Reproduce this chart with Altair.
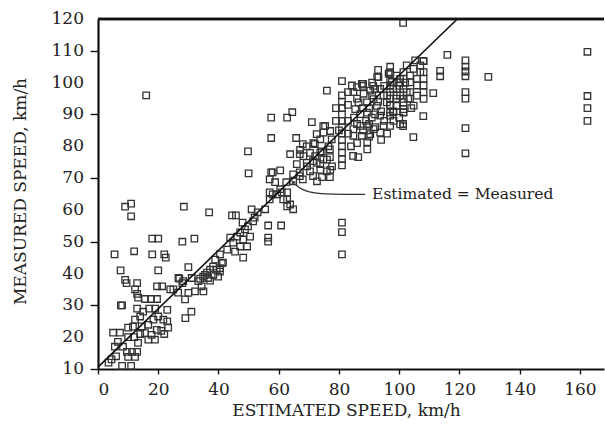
import altair as alt
import pandas as pd

# ---- data (estimated km/h, measured km/h) ----
out_est = [16, 9, 11, 11, 28.5, 5.5, 12, 18, 20, 28, 32, 18, 22, 22.5, 7.5, 20, 9, 9.5, 8,
           36.9, 44.5, 45.8, 49.8, 50, 57.5, 62.8, 64.5, 57.5, 65.8, 71, 76, 56.5, 60.8, 56.5,
           56.5, 81, 81, 81, 101.3, 116, 129.6, 162.5, 162.5, 162.5, 162.5, 122, 122, 122, 122,
           122, 122, 122, 122, 113.6, 113.6, 111.3, 108, 101.3, 104.7, 108, 29, 31, 84.7, 86.4,
           89.4, 89.4, 101.3]
out_meas = [96, 61, 62, 58, 61, 46, 47, 51, 51, 50, 51, 46, 46, 45, 41, 41, 38, 37, 30,
            59.2, 58.3, 58.3, 78.4, 71.5, 89, 89, 90.7, 82.6, 82.6, 87.6, 97.5, 55.1, 55.1, 51.3,
            50, 56, 53, 46, 118.8, 108.7, 101.8, 109.7, 95.8, 92, 88, 107, 105, 103.5, 102,
            97, 95, 85.7, 77.8, 103.7, 102, 96.7, 89.5, 86.3, 82.9, 106.8, 26, 28, 77, 76.6,
            79, 81.3, 87]

col_est = [81] * 13
col_meas = [100.5, 96, 94, 92, 90, 88, 86, 84, 82, 80, 78, 76, 74]

low_est = [4.5, 8, 11, 5.6, 6.6, 8.3, 9.6, 11.3, 13, 13.3, 10, 12.3, 5, 7.3, 10, 11.6, 12.3, 14,
           14.5, 16.7, 18.4, 20, 21.7, 15.6, 17.8, 19.5, 16.7, 18.9, 13, 12.3, 13, 13.3, 19.6,
           21.3, 15.6, 17.6, 19.6, 7.6, 13, 15, 17, 19, 23, 23, 23.3, 27, 28, 30, 26.6, 25, 24,
           26.7, 28.3, 31.1, 33.3, 34.4, 32.2, 30, 35, 36.6, 38.3, 39.4, 40.5, 41.1, 37.2, 35.5,
           28.9, 14, 12, 10, 21, 22, 6, 3.5]
low_meas = [13, 11, 11, 17, 18.5, 17, 15.4, 15.4, 15.4, 18.2, 13.8, 13.8, 21.4, 21.4, 23, 23.3,
            25.5, 26.5, 23.4, 23.9, 25.5, 26.5, 25.5, 21.3, 20.7, 22.3, 19.2, 19.2, 37, 35,
            33.6, 32.4, 36, 36, 32, 32, 32, 30, 29, 28, 29, 29, 28.6, 25, 23, 38.4, 37, 42, 34,
            35, 35, 38.6, 37.6, 38.6, 37.6, 36, 34.4, 33.9, 34.4, 38.6, 39.6, 41.2, 41.7, 43.3,
            41.2, 39.6, 31.9, 21, 20, 20, 22, 21, 14, 12]

mid_est = [33.9, 34.9, 37.2, 36.2, 38.2, 39.9, 40.5, 38.9, 41.5, 40.5, 42.9, 45.5, 48.2, 44.9,
           47.2, 49.5, 43.9, 46.2, 48.2, 50.5, 48, 49.8, 51.5, 48.8, 47.2, 51, 53, 52, 55.5,
           57, 59.5, 61, 62.8, 63.8, 64.8, 57.5, 60.5, 58.8, 62.5, 63.8, 67, 66, 67,
           74.8, 68, 72, 71.4, 69.4, 70.4, 73.8, 76, 77, 74.4, 72.7, 68, 67, 64.8, 58, 57,
           60.5, 62.8, 58, 57, 61.5, 62.8, 64.8, 71.4, 73.8, 74.8, 77, 77, 77.7,
           67.1, 69.3, 71.5, 73.8, 74.9, 77.1, 75.4, 72.6, 70.4, 68.2, 72.1, 74.3, 76.5, 77.6,
           69.3, 72.6, 76, 77.1, 73.8]
mid_meas = [38.4, 39, 37.8, 40.3, 42.2, 39, 40.6, 44.4, 43.4, 46, 47.5, 46.9, 45, 49.7,
            48.5, 48.5, 51.3, 51.6, 50.7, 51.6, 56, 54.8, 56.4, 53.9, 52.9, 60.2, 59.2, 57.6, 60.2,
            65.5, 64.9, 65.5, 63.3, 61.7, 60.2, 71.8, 72.4, 68.7, 68.7, 77.5, 77.5, 74.4, 70.6,
            86.3, 80.7, 80.7, 75.3, 73.7, 72.1, 74.4, 72.1, 70.3, 70.3, 69, 69.6, 71.8, 71.2, 71.8,
            69.6, 66.5, 65.5, 64.9, 63.3, 63.3, 61.1, 69, 70.6, 78.1, 75.9, 79, 76.6, 73.7,
            78.9, 80, 81, 82.2, 84.3, 84.8, 86.4, 83.8, 77.9, 76.9, 76.9, 78.4, 80, 82.2,
            74.8, 74.8, 75.8, 72.6, 72.6]

high_est = [84.3, 87.6, 84.8, 88.2, 90.4, 93.1, 96.5, 97.6, 100.3, 93.7, 94.8, 91.5, 89.3, 86.5,
            85.4, 87.1, 89.3, 90.9, 93.7, 97, 99.2, 101.4, 100.3, 102.5, 95.9, 92.6, 98.1, 94.8,
            91.5, 89.3, 87.1, 84.8, 84.8, 87.6, 90.4, 93.7, 97, 100.3, 101.4,
            97, 97, 97, 97, 97, 97, 97, 99.2, 99.2, 99.2, 100.3, 101.4, 101.4, 101.4, 101.4,
            101.4, 102.5, 103.6, 103.6, 103.6, 103.6, 104.8, 105.3, 105.9, 105.9, 105.9, 107,
            108.1, 108.1, 108.1, 108.1, 108.1, 108.1, 107, 104.8, 101.4, 99.2, 98.1,
            83, 85, 86, 88, 89, 90, 91, 92, 93, 94, 95, 96, 97, 98, 99, 83, 84, 86, 88, 90, 92,
            94, 96, 98, 100, 102, 103, 104, 100, 95, 91, 88, 86, 90, 92, 97, 93,
            86, 88, 91.4, 92.7, 97, 79, 79, 80, 83, 83]
high_meas = [99.1, 99.6, 97, 96.5, 97.5, 101.7, 102.8, 100.2, 101.2, 98, 95.9, 94.8, 93.8, 93.8,
             91.7, 90.1, 90.6, 89, 89.6, 90.6, 92.7, 93.8, 95.9, 97, 93.8, 92.7, 88, 86.4,
             85.4, 86.4, 86.4, 85.4, 83.3, 83.3, 83.8, 84.3, 86.4, 86.9, 90.6,
             103.3, 101.2, 99.1, 97, 94.9, 92.8, 89.6, 102.2, 98, 95.9, 100.1, 103.3, 101.2,
             98, 94.9, 91.7, 105.4, 102.2, 100.1, 97, 94.9, 104.3, 107, 101.2, 99.1, 95.9, 103.3,
             103.3, 101.2, 99.1, 97, 94.9, 106.8, 105.4, 92.8, 90.7, 92.8, 90.7,
             88, 89, 95, 92, 88, 92, 96, 90, 94, 91, 88, 96, 93, 98, 95, 93, 80, 81, 85, 87, 86,
             82, 84, 91, 99, 100, 95, 92, 89, 99, 100, 99, 87, 83, 98, 105, 104,
             98.6, 99.6, 99, 101.8, 102.7, 88, 92, 85, 97, 84]

# axis tick values
x_ticks = list(range(0, 170, 10))
y_ticks = [10, 20, 30, 40, 50, 60, 70, 80, 90, 100, 110, 120]

# diagonal line Estimated = Measured (as drawn)
diag_est = [0, 119.3]
diag_meas = [10.6, 120]

# annotation
note_text = "Estimated = Measured"
note_est, note_meas = 91, 64.9
arrow_est = [88.7, 77.1, 71.0, 67.5, 65.3]
arrow_meas = [64.9, 64.9, 65.3, 66.4, 68.2]

# ---- build tables ----
est = out_est + col_est + low_est + mid_est + high_est
meas = out_meas + col_meas + low_meas + mid_meas + high_meas
pts = pd.DataFrame({"est": est, "meas": meas})
diag = pd.DataFrame({"est": diag_est, "meas": diag_meas})
arrow = pd.DataFrame({"est": arrow_est, "meas": arrow_meas, "i": list(range(len(arrow_est)))})
note = pd.DataFrame({"est": [note_est], "meas": [note_meas], "t": [note_text]})
head = pd.DataFrame({"est": [64.7], "meas": [68.8]})
ylab = pd.DataFrame({"meas": y_ticks, "t": [str(v) for v in y_ticks]})

FONT = "DejaVu Serif"
xscale = alt.Scale(domain=[0, 168], nice=False, zero=False)
yscale = alt.Scale(domain=[10, 120], nice=False, zero=False)

xaxis = alt.Axis(values=x_ticks,
                 labelExpr="datum.value % 20 === 0 ? datum.label : ''",
                 title="ESTIMATED SPEED, km/h", grid=False,
                 domainColor="#111", domainWidth=2.2, tickColor="#111", tickWidth=1.4, tickSize=5,
                 labelFont=FONT, labelFontSize=17, labelColor="#222", labelPadding=7,
                 titleFont=FONT, titleFontSize=17, titleFontWeight="normal", titleColor="#222",
                 titleX=248, titleY=41, titleBaseline="middle")
# y axis: ticks and title from the axis, labels from a text layer on the same scale
yaxis = alt.Axis(values=y_ticks, title="MEASURED SPEED, km/h", grid=False, labels=False,
                 domainColor="#111", domainWidth=2.2, tickColor="#111", tickWidth=1.4, tickSize=8,
                 titleFont=FONT, titleFontSize=17, titleFontWeight="normal", titleColor="#222",
                 titleX=-78, titleY=172, titleAngle=270, titleBaseline="middle")

points = alt.Chart(pts).mark_point(shape="square", filled=False, size=42, strokeWidth=1.3,
                                   color="#333", opacity=1).encode(
    x=alt.X("est:Q", scale=xscale, axis=xaxis),
    y=alt.Y("meas:Q", scale=yscale, axis=yaxis))

ylabels = alt.Chart(ylab).mark_text(align="right", baseline="middle", font=FONT, fontSize=17,
                                    color="#222", dx=-14).encode(
    x=alt.value(0), y=alt.Y("meas:Q", scale=yscale), text="t:N")

line = alt.Chart(diag).mark_line(color="#111", strokeWidth=1.6).encode(
    x=alt.X("est:Q", scale=xscale), y=alt.Y("meas:Q", scale=yscale))

arr = alt.Chart(arrow).mark_line(color="#333", strokeWidth=1.3, interpolate="basis").encode(
    x=alt.X("est:Q", scale=xscale), y=alt.Y("meas:Q", scale=yscale), order="i:Q")

arrhead = alt.Chart(head).mark_point(shape="triangle-up", filled=True, size=22, angle=315,
                                     color="#333", opacity=1).encode(
    x=alt.X("est:Q", scale=xscale), y=alt.Y("meas:Q", scale=yscale))

txt = alt.Chart(note).mark_text(align="left", baseline="middle", font=FONT, fontSize=15.5,
                                color="#222").encode(
    x=alt.X("est:Q", scale=xscale), y=alt.Y("meas:Q", scale=yscale), text="t:N")

topline = alt.Chart(diag).mark_rule(color="#111", strokeWidth=2.4).encode(
    y=alt.value(0), x=alt.value(0), x2=alt.value(506))

chart = alt.layer(points, ylabels, line, arr, arrhead, txt, topline).properties(
    width=506, height=350,
    autosize=alt.AutoSizeParams(type="none"),
    padding={"left": 98, "top": 19, "right": 1, "bottom": 70},
    background="white",
).configure_view(stroke=None).configure_axis(labelOverlap=False, labelBound=False)

chart.save("out.html", embed_options={"renderer": "svg", "actions": False})
